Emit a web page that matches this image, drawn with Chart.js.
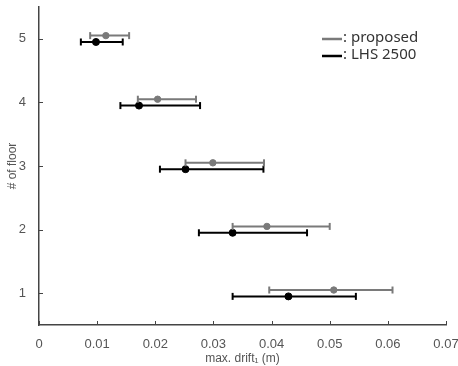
<!DOCTYPE html>
<html>
<head>
<meta charset="utf-8">
<script src="https://cdn.jsdelivr.net/npm/chart.js@4"></script>
<style>
  html, body { margin: 0; padding: 0; background: #fff; }
  #wrap { width: 458px; height: 366px; }
</style>
</head>
<body>
<div id="wrap"><canvas id="chart" width="458" height="366"></canvas></div>
<script>
var floors = [1, 2, 3, 4, 5];
var seriesNames = [": proposed", ": LHS 2500"];

// proposed (gray)
var propMean = [0.0507, 0.0392, 0.0299, 0.0204, 0.0115];
var propLow  = [0.0396, 0.0333, 0.0252, 0.0170, 0.0088];
var propHigh = [0.0608, 0.0500, 0.0387, 0.0270, 0.0155];

// LHS 2500 (black)
var lhsMean = [0.0429, 0.0333, 0.0252, 0.0172, 0.0098];
var lhsLow  = [0.0333, 0.0275, 0.0208, 0.0140, 0.0072];
var lhsHigh = [0.0545, 0.0461, 0.0386, 0.0277, 0.0144];

var xTicks = [0, 0.01, 0.02, 0.03, 0.04, 0.05, 0.06, 0.07];

var propShift = 0.05;
var lhsShift = -0.05;

function rangeData(lo, hi, shift) {
    var out = [];
    for (var i = 0; i < floors.length; i++) {
        out.push({ x: lo[i], y: floors[i] + shift });
        out.push({ x: hi[i], y: floors[i] + shift });
        out.push({ x: NaN, y: NaN });
    }
    return out;
}

function meanData(m, shift) {
    return floors.map(function (f, i) { return { x: m[i], y: f + shift }; });
}

var gray = "#7a7a7a";
var black = "#000000";
var axisColor = "#444";
var tickFont = { family: "'Liberation Sans', sans-serif", size: 13 };

// legend drawn inside the plot, top right
var legendPlugin = {
    id: "innerLegend",
    afterDraw: function (chart) {
        var ctx = chart.ctx;
        var items = [[gray, seriesNames[0]], [black, seriesNames[1]]];
        ctx.save();
        ctx.font = "15px 'Noto Sans', sans-serif";
        ctx.textBaseline = "middle";
        items.forEach(function (it, i) {
            var y = 39 + i * 17;
            ctx.strokeStyle = it[0];
            ctx.lineWidth = 2.5;
            ctx.beginPath();
            ctx.moveTo(322, y);
            ctx.lineTo(342, y);
            ctx.stroke();
            ctx.fillStyle = "#333";
            ctx.fillText(it[1], 343, y - 1);
        });
        ctx.restore();
    }
};

// small tick marks pointing into the plot
var innerTicks = {
    id: "innerTicks",
    afterDraw: function (chart) {
        var ctx = chart.ctx;
        var xs = chart.scales.x, ys = chart.scales.y;
        ctx.save();
        ctx.strokeStyle = axisColor;
        ctx.lineWidth = 1;
        xs.ticks.forEach(function (t) {
            var px = Math.round(xs.getPixelForValue(t.value)) + 0.5;
            ctx.beginPath();
            ctx.moveTo(px, ys.bottom);
            ctx.lineTo(px, ys.bottom - 4);
            ctx.stroke();
        });
        ys.ticks.forEach(function (t) {
            var py = Math.round(ys.getPixelForValue(t.value)) + 0.5;
            ctx.beginPath();
            ctx.moveTo(xs.left, py);
            ctx.lineTo(xs.left + 4, py);
            ctx.stroke();
        });
        ctx.restore();
    }
};

var ctx = document.getElementById("chart").getContext("2d");
var myChart = new Chart(ctx, {
    type: "line",
    data: {
        datasets: [
            {
                label: "proposed range",
                data: rangeData(propLow, propHigh, propShift),
                borderColor: gray,
                borderWidth: 2,
                pointStyle: "line",
                rotation: 90,
                pointRadius: 3.5,
                pointBorderWidth: 2,
                pointBorderColor: gray,
                spanGaps: false,
            },
            {
                label: "proposed",
                data: meanData(propMean, propShift),
                showLine: false,
                pointRadius: 3.2,
                pointBackgroundColor: gray,
                pointBorderColor: gray,
            },
            {
                label: "LHS range",
                data: rangeData(lhsLow, lhsHigh, lhsShift),
                borderColor: black,
                borderWidth: 2,
                pointStyle: "line",
                rotation: 90,
                pointRadius: 3.5,
                pointBorderWidth: 2,
                pointBorderColor: black,
                spanGaps: false,
            },
            {
                label: "LHS 2500",
                data: meanData(lhsMean, lhsShift),
                showLine: false,
                pointRadius: 3.5,
                pointBackgroundColor: black,
                pointBorderColor: black,
            },
        ],
    },
    options: {
        responsive: false,
        animation: false,
        layout: { padding: 0 },
        plugins: {
            legend: { display: false },
            tooltip: { enabled: false },
        },
        scales: {
            x: {
                type: "linear",
                min: 0,
                max: 0.07,
                afterBuildTicks: function (axis) {
                    axis.ticks = xTicks.map(function (v) { return { value: v }; });
                },
                afterFit: function (axis) {
                    axis.height = 41;
                    axis.paddingRight = 12;
                    axis.paddingLeft = 0;
                },
                grid: { display: false },
                border: { color: axisColor, width: 1.5 },
                ticks: {
                    color: "#555",
                    font: tickFont,
                    padding: 4,
                    maxRotation: 0,
                    callback: function (v) { return v === 0 ? "0" : String(Math.round(v * 100) / 100); },
                },
                title: {
                    display: true,
                    text: "max. drift\u2081 (m)",
                    color: "#555",
                    font: { family: "'Liberation Sans', sans-serif", size: 12 },
                    padding: { top: 2, bottom: 0 },
                },
            },
            y: {
                type: "linear",
                min: 0.5,
                max: 5.5,
                afterBuildTicks: function (axis) {
                    axis.ticks = floors.map(function (v) { return { value: v }; });
                },
                afterFit: function (axis) {
                    axis.width = 39;
                    axis.paddingTop = 7;
                    axis.paddingBottom = 0;
                },
                grid: { display: false },
                border: { color: axisColor, width: 1.5 },
                ticks: {
                    color: "#555",
                    font: tickFont,
                    padding: 5,
                },
                title: {
                    display: true,
                    text: "# of floor",
                    color: "#555",
                    font: { family: "'Liberation Sans', sans-serif", size: 12 },
                    padding: { top: 5, bottom: 2 },
                },
            },
        },
    },
    plugins: [legendPlugin, innerTicks],
});
</script>
</body>
</html>
